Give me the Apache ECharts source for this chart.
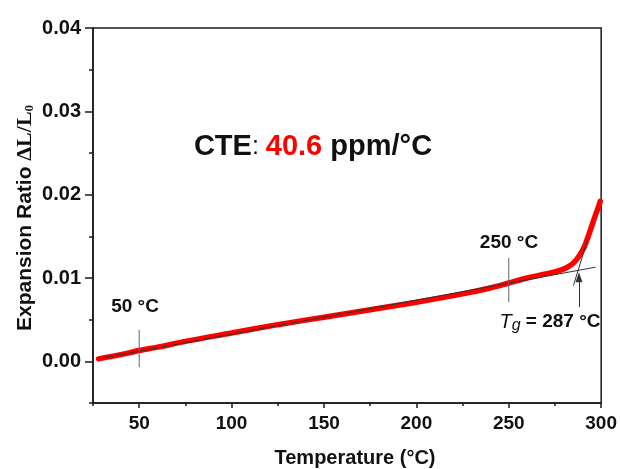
<!DOCTYPE html>
<html>
<head>
<meta charset="utf-8">
<script src="https://cdn.jsdelivr.net/npm/echarts@6/dist/echarts.min.js"></script>
<style>
  html, body { margin: 0; padding: 0; background: #fff; }
  #chart { width: 620px; height: 469px; }
</style>
</head>
<body>
<div id="chart"></div>
<script>
// measured curve: temperature (°C) vs expansion ratio dL/L0
var temps = [28, 40, 50, 60, 75, 100, 125, 150, 175, 200, 225, 240, 250, 260, 270, 276, 281, 285, 288, 291, 293, 295, 297, 298.5, 299.5];
var ratio = [0.0003, 0.0008, 0.0013, 0.0017, 0.0024, 0.0034, 0.0044, 0.0053, 0.0062, 0.0071, 0.0081, 0.0088, 0.0094, 0.0100, 0.0105, 0.0108, 0.0112, 0.0118, 0.0126, 0.0138, 0.0150, 0.0163, 0.0176, 0.0185, 0.0192];

// tick values
var xLabels = [50, 100, 150, 200, 250, 300];
var xMinor = [25, 75, 125, 175, 225, 275];
var yLabels = [0, 0.01, 0.02, 0.03, 0.04];
var yMinor = [-0.005, 0.005, 0.015, 0.025, 0.035];

// annotation lines (data coords)
var baseTangent = [[30, 0.0004], [297, 0.0113]];
var steepTangent = [[285, 0.0091], [292.5, 0.0145]];
var mark50 = [[50, -0.0007], [50, 0.0038]];
var mark250 = [[250, 0.0071], [250, 0.0124]];
var tgArrow = [[288, 0.0065], [288, 0.0101]];

var FONT = '"Liberation Sans", Arial, sans-serif';
var SERIF = '"Liberation Serif", "Times New Roman", serif';
var axisColor = '#1a1a1a';

var chart = echarts.init(document.getElementById('chart'));

function thinLine(data, color) {
  return {
    type: 'line',
    data: data,
    symbol: 'none',
    silent: true,
    z: 5,
    lineStyle: { color: color, width: 1 }
  };
}

var option = {
  animation: false,
  backgroundColor: '#fff',
  grid: {
    left: 93, right: 18, top: 28, bottom: 66,
    show: true, borderColor: axisColor, borderWidth: 1.5
  },
  xAxis: [{
    type: 'value', min: 25, max: 300, interval: 25,
    axisLine: { onZero: false, lineStyle: { color: axisColor, width: 1.5 } },
    axisTick: { length: 5, customValues: xLabels, lineStyle: { color: axisColor, width: 1.5 } },
    axisLabel: {
      customValues: xLabels, margin: 11,
      color: '#111', fontFamily: FONT, fontWeight: 'bold', fontSize: 19
    },
    splitLine: { show: false }
  }, {
    type: 'value', min: 25, max: 300, interval: 25, position: 'bottom',
    axisLine: { show: false, onZero: false },
    axisTick: { length: 3, customValues: xMinor, lineStyle: { color: axisColor, width: 1.5 } },
    axisLabel: { show: false },
    splitLine: { show: false }
  }],
  yAxis: [{
    type: 'value', min: -0.005, max: 0.04, interval: 0.005,
    axisLine: { show: true, onZero: false, lineStyle: { color: axisColor, width: 1.5 } },
    axisTick: { show: true, length: 8, customValues: yLabels, lineStyle: { color: axisColor, width: 1.5 } },
    axisLabel: {
      customValues: yLabels, margin: 12,
      color: '#111', fontFamily: FONT, fontWeight: 'bold', fontSize: 20,
      formatter: function (v) { return v.toFixed(2); }
    },
    splitLine: { show: false }
  }, {
    type: 'value', min: -0.005, max: 0.04, interval: 0.005, position: 'left',
    axisLine: { show: false, onZero: false },
    axisTick: { show: true, length: 4, customValues: yMinor, lineStyle: { color: axisColor, width: 1.5 } },
    axisLabel: { show: false },
    splitLine: { show: false }
  }],
  series: [{
    type: 'line',
    data: temps.map(function (t, i) { return [t, ratio[i]]; }),
    symbol: 'none',
    smooth: 0.3,
    z: 3,
    lineStyle: { color: '#ff0000', width: 5.5, cap: 'round' },
    markLine: {
      silent: true,
      symbol: ['none', 'triangle'],
      symbolSize: [7, 10],
      label: { show: false },
      lineStyle: { color: '#333', width: 1, type: 'solid' },
      data: [[{ coord: tgArrow[0] }, { coord: tgArrow[1] }]]
    }
  },
  thinLine(baseTangent, '#333'),
  thinLine(steepTangent, '#333'),
  thinLine(mark50, '#666'),
  thinLine(mark250, '#666')
  ],
  graphic: [{
    type: 'text', x: 313, y: 147,
    style: {
      text: '{k|CTE}{c|: }{r|40.6}{k| ppm/°C}',
      align: 'center', verticalAlign: 'middle',
      rich: {
        k: { fontFamily: FONT, fontWeight: 'bold', fontSize: 29, fill: '#111' },
        c: { fontFamily: FONT, fontSize: 25, fill: '#111' },
        r: { fontFamily: FONT, fontWeight: 'bold', fontSize: 29, fill: '#ff0000' }
      }
    }
  }, {
    type: 'text', x: 135, y: 307,
    style: {
      text: '50 °C', align: 'center', verticalAlign: 'middle',
      font: 'bold 19px ' + FONT, fill: '#111'
    }
  }, {
    type: 'text', x: 509, y: 243,
    style: {
      text: '250 °C', align: 'center', verticalAlign: 'middle',
      font: 'bold 19px ' + FONT, fill: '#111'
    }
  }, {
    type: 'text', x: 550, y: 323,
    style: {
      text: '{t|T}{g|g}{n| = 287 °C}',
      align: 'center', verticalAlign: 'middle',
      rich: {
        t: { fontFamily: FONT, fontStyle: 'italic', fontSize: 20, fill: '#111', verticalAlign: 'top', lineHeight: 22 },
        g: { fontFamily: FONT, fontStyle: 'italic', fontSize: 16, fill: '#111', verticalAlign: 'bottom', lineHeight: 22, padding: [8, 0, 0, 0] },
        n: { fontFamily: FONT, fontWeight: 'bold', fontSize: 19, fill: '#111', verticalAlign: 'top', lineHeight: 22 }
      }
    }
  }, {
    type: 'text', x: 355, y: 458,
    style: {
      text: 'Temperature (°C)', align: 'center', verticalAlign: 'middle',
      font: 'bold 20px ' + FONT, fill: '#111'
    }
  }, {
    type: 'text', x: 25, y: 218, rotation: Math.PI / 2,
    style: {
      text: '{a|Expansion Ratio }{b|ΔL/L}{s|0}',
      align: 'center', verticalAlign: 'middle',
      rich: {
        a: { fontFamily: FONT, fontWeight: 'bold', fontSize: 21, fill: '#111' },
        b: { fontFamily: SERIF, fontWeight: 'bold', fontSize: 22, fill: '#111' },
        s: { fontFamily: SERIF, fontWeight: 'bold', fontSize: 13, fill: '#111', padding: [10, 0, 0, 0] }
      }
    }
  }]
};

chart.setOption(option);
</script>
</body>
</html>
